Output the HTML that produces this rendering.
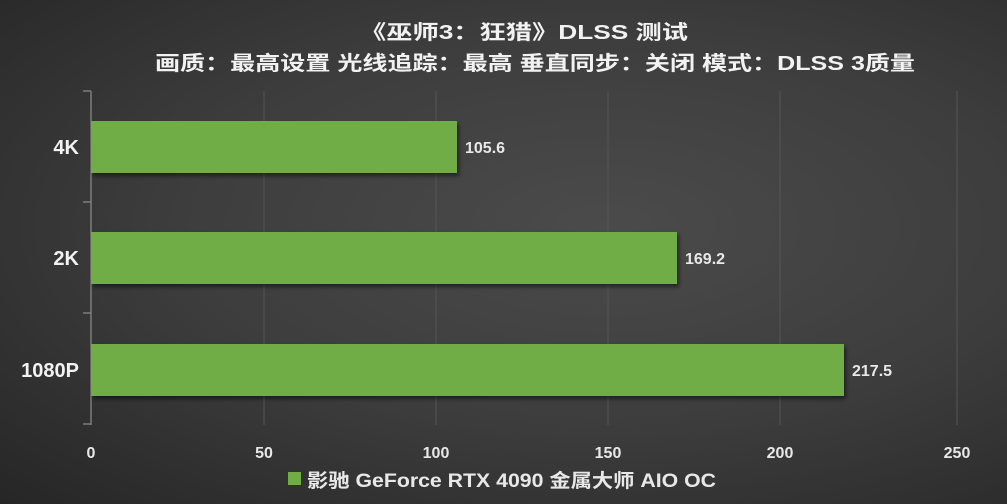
<!DOCTYPE html>
<html><head><meta charset="utf-8"><style>
html,body{margin:0;padding:0}
body{width:1007px;height:504px;overflow:hidden;background:radial-gradient(ellipse at 60% 45%,#4b4b4b 0%,#3d3d3d 50%,#262626 100%);font-family:"Liberation Sans","Noto Sans CJK SC",sans-serif}
</style></head><body>
<svg width="1007" height="504" xmlns="http://www.w3.org/2000/svg" style="position:absolute;left:0;top:0;font-family:'Liberation Sans','Noto Sans CJK SC',sans-serif">
<defs><filter id="s" x="-5%" y="-20%" width="110%" height="150%"><feDropShadow dx="2" dy="3" stdDeviation="2" flood-color="#000" flood-opacity="0.5"/></filter></defs>
<g fill="#f2f2f2" font-weight="bold" font-size="20">
<text x="360" y="39" textLength="328" lengthAdjust="spacingAndGlyphs">《巫师3：狂猎》DLSS 测试</text>
<text x="155" y="70" textLength="760" lengthAdjust="spacingAndGlyphs">画质：最高设置 光线追踪：最高  垂直同步：关闭 模式：DLSS 3质量</text>
</g>
<g stroke="#555" stroke-width="1">
<line x1="264" y1="91" x2="264" y2="425"/><line x1="436" y1="91" x2="436" y2="425"/>
<line x1="608" y1="91" x2="608" y2="425"/><line x1="780" y1="91" x2="780" y2="425"/>
<line x1="957" y1="91" x2="957" y2="425"/>
</g>
<g stroke="#888" stroke-width="1.3">
<line x1="91" y1="91" x2="91" y2="425"/>
<line x1="83" y1="91" x2="91" y2="91"/><line x1="83" y1="202" x2="91" y2="202"/>
<line x1="83" y1="313" x2="91" y2="313"/><line x1="83" y1="424" x2="91" y2="424"/>
</g>
<g fill="#6fad46" filter="url(#s)">
<rect x="91" y="121" width="366" height="52"/>
<rect x="91" y="232" width="586" height="52"/>
<rect x="91" y="344" width="753" height="52"/>
</g>
<g fill="#e8e8e8" font-size="16" font-weight="bold">
<text x="465" y="153">105.6</text><text x="685" y="264">169.2</text><text x="852" y="376">217.5</text>
</g>
<g fill="#f2f2f2" font-size="20" font-weight="bold" text-anchor="end">
<text x="79" y="154">4K</text><text x="79" y="265">2K</text><text x="79" y="377">1080P</text>
</g>
<g fill="#e8e8e8" font-size="16" font-weight="bold" text-anchor="middle">
<text x="91" y="458">0</text><text x="264" y="458">50</text><text x="436" y="458">100</text>
<text x="608" y="458">150</text><text x="780" y="458">200</text><text x="957" y="458">250</text>
</g>
<rect x="288" y="472" width="13" height="13" fill="#6fad46"/>
<text x="307" y="487" fill="#e8e8e8" font-size="19" font-weight="bold" textLength="409" lengthAdjust="spacingAndGlyphs">影驰 GeForce RTX 4090 金属大师 AIO OC</text>
</svg>
</body></html>
